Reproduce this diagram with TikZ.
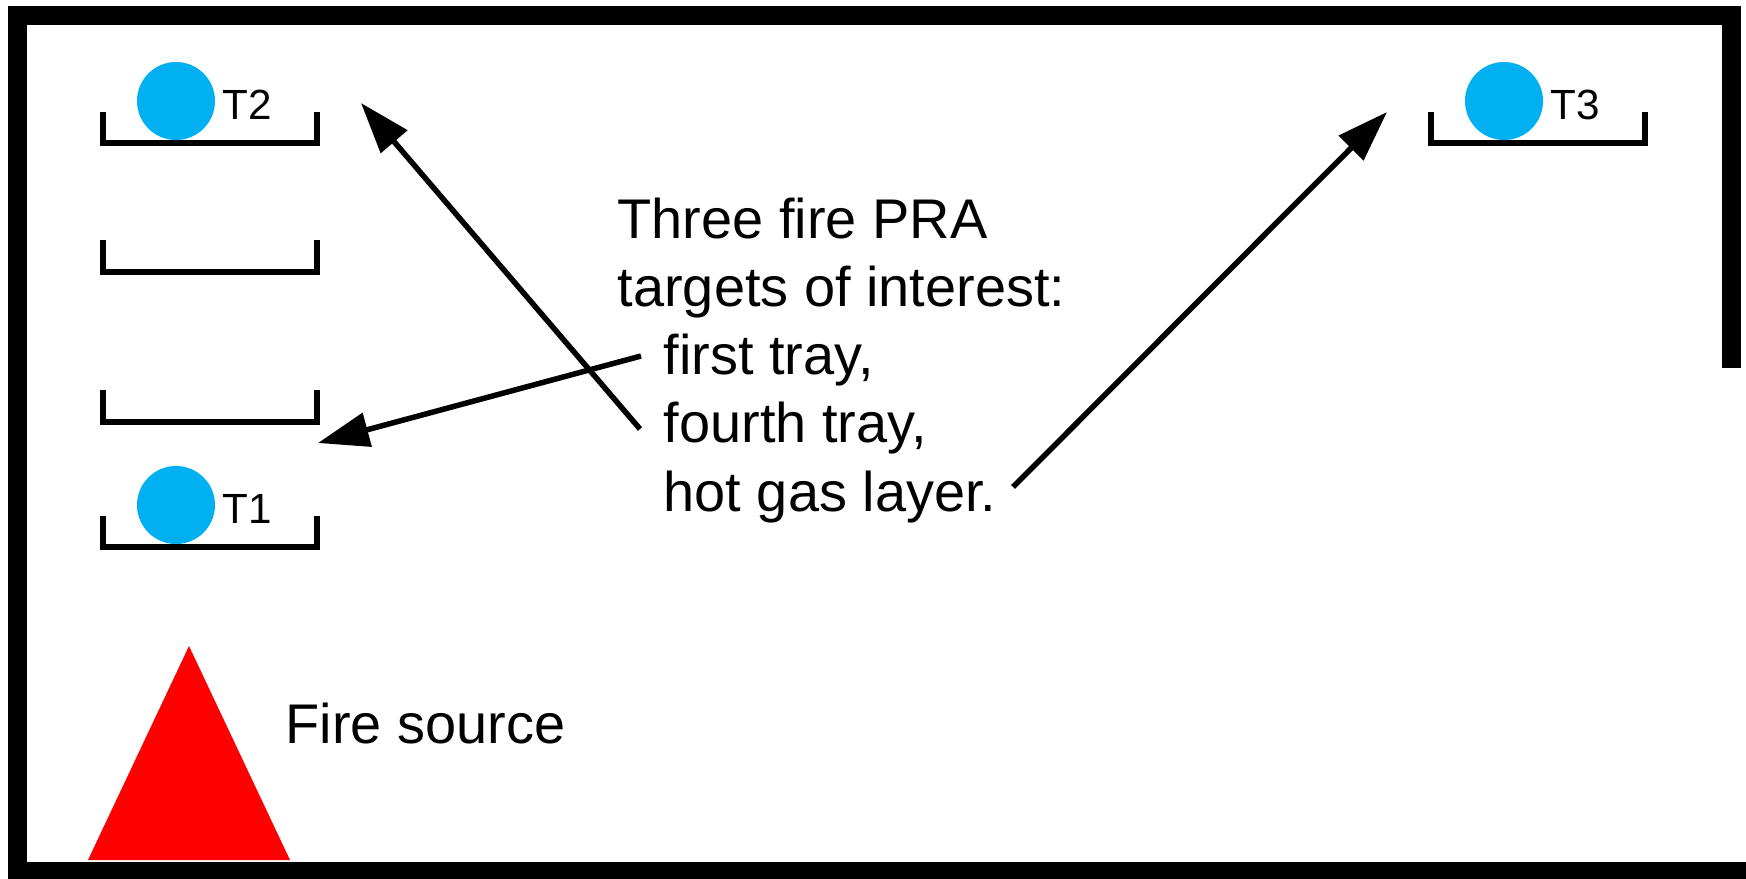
\documentclass[tikz,border=0pt]{standalone}
\usepackage{fontspec}
\setmainfont{Liberation Sans}
\usepackage{tikz}
\usetikzlibrary{arrows.meta}

\definecolor{targetblue}{HTML}{00B0F0}

\begin{document}
\begin{tikzpicture}[
        x=0.01cm, y=-0.01cm,
        wall/.style={line width=0.19cm, line cap=butt, line join=miter},
        tray/.style={line width=0.06cm, line join=miter},
        target/.style={circle, fill=targetblue, inner sep=0pt, minimum size=0.78cm},
        tlabel/.style={anchor=base west, inner sep=0pt, font=\fontsize{12pt}{14pt}\selectfont},
        bigtext/.style={anchor=base west, inner sep=0pt, font=\fontsize{15.9pt}{19.35pt}\selectfont},
        pointer/.style={-{Triangle[length=0.51cm, width=0.34cm]}, line width=0.055cm}
    ]

        % Page size
        \useasboundingbox (0,0) rectangle (1746,878);
        \clip (0,0) rectangle (1746,878);

        % Room walls
        \draw[wall] (1731.5,368) -- (1731.5,15) -- (17.5,15) -- (17.5,871.5) -- (1760,871.5);

        % Cable trays on the left wall
        \draw[tray] (103,112) -- (103,143) -- (317,143) -- (317,112);
        \draw[tray] (103,240) -- (103,272) -- (317,272) -- (317,240);
        \draw[tray] (103,390) -- (103,422) -- (317,422) -- (317,390);
        \draw[tray] (103,516) -- (103,547) -- (317,547) -- (317,516);

        % Cable tray on the right
        \draw[tray] (1431,112) -- (1431,143) -- (1645,143) -- (1645,112);

        % Targets
        \node[target] (T2) at (176,101) {};
        \node[target] (T1) at (176,505) {};
        \node[target] (T3) at (1504,101) {};
        \node[tlabel] (T2 label) at (222,119) {T2};
        \node[tlabel] (T1 label) at (222,523) {T1};
        \node[tlabel] (T3 label) at (1550,119) {T3};

        % Fire source
        \fill[red] (189,646) -- (290,860) -- (88,860) -- cycle;
        \node[bigtext] (fire) at (285,743) {Fire source};

        % Description of the targets
        \node[bigtext] (line1) at (617,238) {Three fire PRA};
        \node[bigtext] (line2) at (617,306) {targets of interest:};
        \node[bigtext] (line3) at (663,374) {first tray,};
        \node[bigtext] (line4) at (663,442) {fourth tray,};
        \node[bigtext] (line5) at (663,511) {hot gas layer.};

        % Arrow end points
        \coordinate (tail T2) at (640,429);
        \coordinate (tip T2) at (361,103);
        \coordinate (tail T1) at (641,356);
        \coordinate (tip T1) at (318,443);
        \coordinate (tail T3) at (1013,487);
        \coordinate (tip T3) at (1387,112);

        % Arrows to the targets
        \draw[pointer] (tail T2) -- (tip T2);
        \draw[pointer] (tail T1) -- (tip T1);
        \draw[pointer] (tail T3) -- (tip T3);

    \end{tikzpicture}
\end{document}
